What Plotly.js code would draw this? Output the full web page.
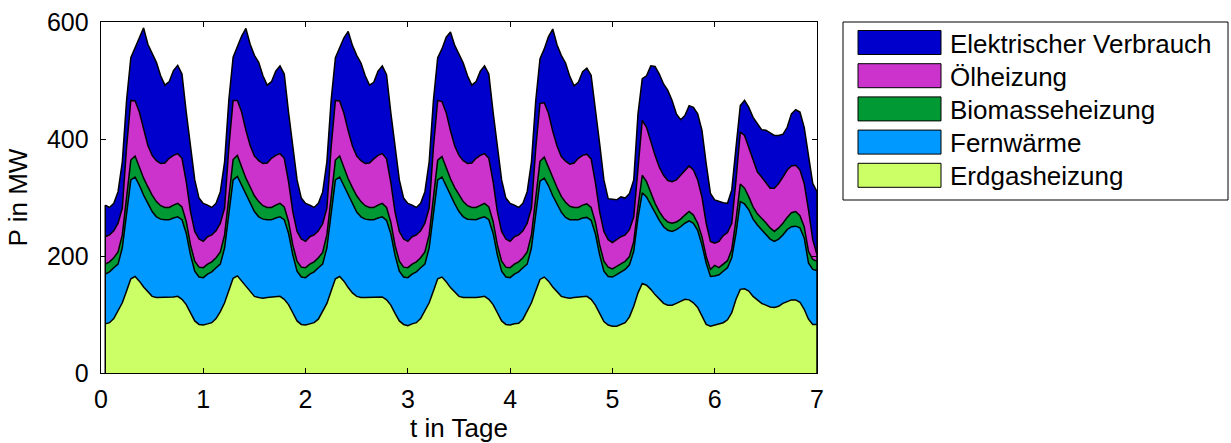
<!DOCTYPE html>
<html>
<head>
<meta charset="utf-8">
<script src="https://cdn.plot.ly/plotly-3.0.1.min.js"></script>
<style>html,body{margin:0;padding:0;background:#fff;}#chart{width:1231px;height:443px;}</style>
</head>
<body>
<div id="chart"></div>
<script>
// Hourly samples, t in days = hour / 24
const hoursCount = 168;
const seriesNames = ["Erdgasheizung", "Fernwärme", "Biomasseheizung", "Ölheizung", "Elektrischer Verbrauch"];
const seriesColors = ["#ccff66", "#0099ff", "#009933", "#cc33cc", "#0000cc"];

const erdgas = [
  84,86,93,106,120,140,161,165,157,147,138,131,129,129,129,130,130,131,126,117,103,89,83,82,
  84,86,93,105,120,141,162,166,157,147,138,131,129,128,129,130,131,131,126,117,103,89,83,82,
  84,86,92,105,119,140,161,165,157,146,137,131,129,129,129,130,130,130,125,116,102,89,83,81,
  84,86,93,106,120,140,161,164,156,146,138,131,129,129,128,129,130,131,126,117,103,89,83,82,
  84,85,92,105,120,140,160,164,157,147,138,131,129,128,129,130,131,131,126,116,102,88,82,80,
  80,83,86,96,114,137,153,150,143,134,127,119,116,116,119,123,126,125,120,112,96,83,80,82,
  83,86,91,103,126,143,144,140,131,125,119,116,113,112,114,119,122,125,125,121,109,92,83,83
];
const fernwaerme = [
  85,87,87,80,94,130,169,170,164,157,152,145,138,134,133,132,135,136,136,122,99,85,81,81,
  85,87,87,81,94,130,168,170,164,157,152,145,138,135,133,132,134,136,136,122,99,85,81,81,
  85,87,88,81,95,131,169,170,163,157,152,144,138,134,133,132,135,137,136,122,99,85,81,82,
  85,87,87,80,94,130,169,171,164,157,151,145,138,134,134,133,135,136,136,122,99,85,81,81,
  85,88,88,81,94,129,168,169,163,156,151,144,137,134,133,132,134,135,135,122,100,86,83,84,
  88,89,91,89,94,128,155,151,144,139,134,131,128,126,126,127,130,135,136,132,123,105,85,84,
  85,88,89,94,113,150,145,139,132,128,126,122,116,113,115,117,123,125,126,127,122,96,94,92
];
const biomasse = [
  17,17,17,21,22,35,34,36,31,29,28,28,26,23,21,21,22,23,22,20,17,17,17,17,
  17,17,17,21,22,34,35,36,31,29,28,27,26,23,21,21,22,23,22,20,17,17,17,17,
  17,17,17,20,22,35,34,36,31,29,28,28,26,23,21,21,22,23,22,20,17,17,17,17,
  17,17,17,21,22,35,34,35,31,29,28,28,26,23,21,21,22,23,22,20,17,17,17,17,
  17,17,17,21,22,34,34,36,31,29,28,27,26,23,21,21,22,23,22,20,17,17,16,14,
  14,15,14,14,17,19,30,26,20,17,15,15,14,14,13,13,14,16,14,12,14,11,12,18,
  12,12,12,14,23,30,27,22,21,19,20,19,19,17,19,20,21,24,25,21,19,20,17,16
];
const oel = [
  47,46,46,49,46,81,102,94,94,82,71,68,70,72,76,84,85,85,83,68,57,51,48,45,
  47,46,46,49,46,81,101,94,94,82,71,68,70,72,76,84,85,85,83,68,57,51,48,45,
  47,46,46,49,46,80,102,94,93,82,71,68,70,72,76,83,85,85,83,68,57,51,48,45,
  47,46,46,49,46,81,102,94,94,82,71,68,70,72,76,84,85,85,83,68,57,51,48,45,
  47,46,46,49,46,80,99,93,93,81,71,68,70,72,76,84,85,85,83,68,57,51,47,45,
  46,46,45,46,42,63,94,93,88,82,76,73,71,71,72,75,77,78,77,74,68,57,48,38,
  45,49,48,45,68,89,90,85,80,72,70,68,68,74,76,79,81,80,79,78,74,71,34,11
];
const elektrisch = [
  54,47,47,54,79,80,73,91,130,175,173,173,168,150,133,131,145,151,144,119,116,88,70,65,
  54,47,47,54,79,81,74,91,130,174,173,172,168,150,133,131,144,150,144,119,116,88,70,65,
  54,47,47,54,79,80,73,90,129,170,172,172,167,150,133,131,144,150,144,119,116,88,70,65,
  54,47,47,54,79,80,73,90,129,169,172,172,167,150,133,131,144,150,144,119,116,88,70,65,
  54,47,47,54,79,82,76,92,131,175,173,173,168,150,132,130,143,147,143,119,116,88,70,74,
  68,68,63,62,63,96,71,88,130,152,159,156,154,139,113,95,93,103,107,113,114,102,82,74,
  68,56,50,57,56,45,60,68,73,82,81,90,94,90,82,73,73,89,95,99,96,90,96,108
];
const xTicks = [0,1,2,3,4,5,6,7];
const yTicks = [0,200,400,600];

const seriesValues = [erdgas, fernwaerme, biomasse, oel, elektrisch];
const t = Array.from({length: hoursCount}, (_, i) => (i + 1) / 24);

const FONT = "Liberation Sans, Arial, Helvetica, sans-serif";
const traces = seriesValues.map((vals, i) => ({
  type: "scatter", mode: "lines", x: t, y: vals, name: seriesNames[i],
  stackgroup: "one", fill: "tonexty", fillcolor: seriesColors[i],
  line: {color: "#000", width: 1.5}, showlegend: false
}));
// vertical outline edges at both ends of the stacked area
const total = t.map((_, k) => seriesValues.reduce((s, v) => s + v[k], 0));
[0, hoursCount - 1].forEach(k => traces.push({
  type: "scatter", mode: "lines", x: [t[k], t[k]], y: [0, total[k]],
  line: {color: "#000", width: 1.5}, showlegend: false, hoverinfo: "skip"
}));

// custom legend (pixel -> paper)
const L = 101, R = 817, T = 22, B = 373;
const px = x => (x - L) / (R - L);
const py = y => (B - y) / (B - T);
const shapes = [{type: "rect", xref: "paper", yref: "paper",
  x0: px(843), x1: px(1228), y0: py(22), y1: py(200),
  line: {color: "#000", width: 1}, fillcolor: "#fff"}];
const annotations = [];
const legendOrder = [4, 3, 2, 1, 0];
legendOrder.forEach((si, j) => {
  const cy = 42.5 + j * 33.2;
  shapes.push({type: "rect", xref: "paper", yref: "paper",
    x0: px(858), x1: px(941), y0: py(cy + 12), y1: py(cy - 12),
    line: {color: "#000", width: 1}, fillcolor: seriesColors[si]});
  annotations.push({xref: "paper", yref: "paper", x: px(948), y: py(cy + 1),
    xanchor: "left", yanchor: "middle", showarrow: false, text: seriesNames[si],
    font: {family: FONT, size: 26, color: "#000"}});
});

const layout = {
  width: 1231, height: 443,
  margin: {l: L, r: 1231 - R, t: T, b: 443 - B, pad: 0},
  paper_bgcolor: "#fff", plot_bgcolor: "#fff",
  showlegend: false,
  font: {family: FONT, size: 25, color: "#000"},
  xaxis: {range: [0, 7], tickvals: xTicks, ticktext: xTicks.map(String),
    ticks: "inside", ticklen: 5, tickcolor: "#000", tickwidth: 1,
    showline: true, linecolor: "#000", linewidth: 1.3, mirror: "ticks",
    showgrid: false, zeroline: false, ticklabelstandoff: 4,
    tickfont: {family: FONT, size: 25, color: "#000"},
    title: {text: "t in Tage", standoff: 4, font: {family: FONT, size: 26, color: "#000"}}},
  yaxis: {range: [0, 600], tickvals: yTicks, ticktext: yTicks.map(String),
    ticks: "inside", ticklen: 5, tickcolor: "#000", tickwidth: 1,
    showline: true, linecolor: "#000", linewidth: 1.3, mirror: "ticks",
    showgrid: false, zeroline: false, ticklabelstandoff: 6,
    tickfont: {family: FONT, size: 25, color: "#000"},
    title: {text: "P in MW", standoff: 12, font: {family: FONT, size: 26, color: "#000"}}},
  shapes: shapes, annotations: annotations
};
Plotly.newPlot("chart", traces, layout, {staticPlot: true, displayModeBar: false});
</script>
</body>
</html>
